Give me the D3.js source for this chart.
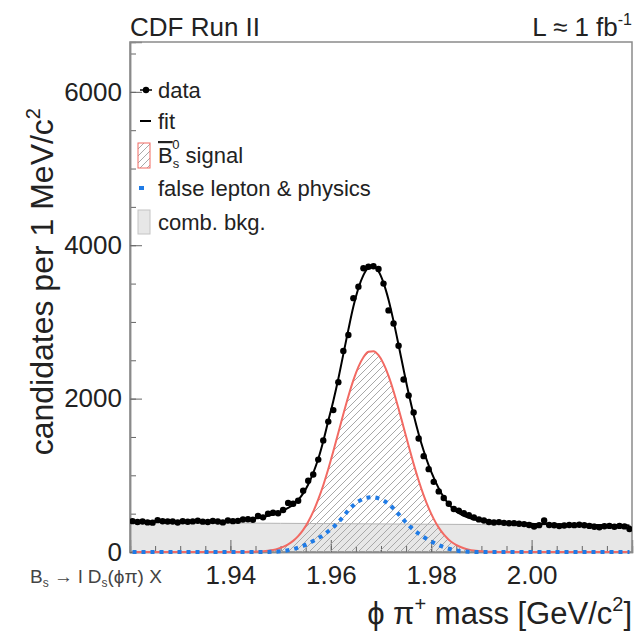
<!DOCTYPE html>
<html>
<head>
<meta charset="utf-8">
<script src="https://cdn.jsdelivr.net/npm/d3@7"></script>
<style>
  body { margin: 0; background: #fff; }
  text { font-family: "Liberation Sans", Arial, sans-serif; }
</style>
</head>
<body>
<script>
// phi pi mass spectrum, 1 MeV bins from 1.920 to 2.020 GeV
const massBins = d3.range(100).map(i => +(1.9205 + i * 0.001).toFixed(4));

const dataCounts = [
  402,392,398,386,383,415,400,397,398,384,
  401,395,399,408,396,391,404,398,386,410,
  402,406,424,428,420,470,452,500,512,505,
  548,640,630,668,800,930,1010,1205,1455,1700,
  1850,2215,2620,2830,3310,3460,3700,3720,3725,3690,
  3500,3150,2980,2690,2250,2040,1820,1480,1250,1080,
  915,790,705,630,560,540,505,480,450,425,
  410,392,384,390,380,374,376,368,364,352,
  332,350,410,352,348,338,345,352,350,355,
  348,340,330,322,335,340,330,340,334,300
];

const fitTotal = [
  398,398,397,397,397,396,396,396,396,396,
  396,396,396,397,397,398,399,400,402,404,
  407,411,416,423,432,443,456,472,490,512,
  540,575,615,680,765,880,1030,1215,1445,1710,
  1970,2260,2580,2900,3200,3440,3610,3705,3720,3660,
  3510,3290,3010,2700,2380,2070,1790,1540,1320,1130,
  970,830,715,625,555,505,470,445,428,416,
  406,398,392,387,383,380,377,374,372,370,
  366,365,364,363,362,361,360,359,358,357,
  356,355,354,353,352,351,350,349,348,347
];

const bsSignal = [
  0,0,0,0,0,0,0,0,0,0,
  0,0,0,0,0,0,0,0,0,0,
  0,1,1,2,3,6,10,17,27,43,
  66,99,145,207,289,395,526,686,871,1082,
  1313,1555,1798,2031,2241,2414,2540,2610,2619,2566,
  2457,2297,2097,1869,1628,1384,1149,932,738,571,
  432,318,229,161,111,75,49,31,19,12,
  7,4,2,1,1,0,0,0,0,0,
  0,0,0,0,0,0,0,0,0,0,
  0,0,0,0,0,0,0,0,0,0
];

const falseLepton = [
  0,0,0,0,0,0,0,0,0,0,
  0,0,0,0,0,0,0,0,0,0,
  0,0,0,0,0,0,0,1,3,6,
  12,22,37,57,80,110,143,180,220,270,
  322,390,462,545,610,660,695,711,714,700,
  672,628,565,495,420,350,290,240,195,156,
  121,90,63,42,26,14,7,3,1,0,
  0,0,0,0,0,0,0,0,0,0,
  0,0,0,0,0,0,0,0,0,0,
  0,0,0,0,0,0,0,0,0,0
];

const combMass = [1.92, 1.93, 1.94, 1.95, 1.96, 1.97, 1.98, 1.99, 2.00, 2.01, 2.02];
const combBkg  = [386, 382, 378, 374, 370, 366, 362, 358, 354, 350, 346];

const xMajor = [1.94, 1.96, 1.98, 2.00];
const yMajor = [0, 2000, 4000, 6000];

const W = 637, H = 640;
const frameL = 130, frameR = 632, frameT = 42, frameB = 552;

const svg = d3.select("body").append("svg").attr("width", W).attr("height", H);
svg.append("rect").attr("width", W).attr("height", H).attr("fill", "#fff");

const x = d3.scaleLinear().domain([1.92, 2.02]).range([frameL, frameR]);
const y = d3.scaleLinear().domain([0, 6650]).range([frameB, frameT]);

// hatch for the signal
const defs = svg.append("defs");
const pat = defs.append("pattern").attr("id", "hatch")
  .attr("patternUnits", "userSpaceOnUse").attr("width", 7).attr("height", 7);
pat.append("path").attr("d", "M0,7 L7,0 M-1,1 L1,-1 M6,8 L8,6")
  .attr("stroke", "#a8a8a8").attr("stroke-width", 1);
defs.append("clipPath").attr("id", "frame")
  .append("rect").attr("x", frameL).attr("y", frameT)
  .attr("width", frameR - frameL).attr("height", frameB - frameT + 3);

// combinatorial background band sits under the axes
const combPts = combMass.map((m, i) => [m, combBkg[i]]);
svg.append("path").datum(combPts)
  .attr("d", d3.area().x(d => x(d[0])).y0(y(0)).y1(d => y(d[1])))
  .attr("fill", "#e7e7e7");

// frame
svg.append("rect").attr("x", frameL).attr("y", frameT)
  .attr("width", frameR - frameL).attr("height", frameB - frameT)
  .attr("fill", "none").attr("stroke", "#8a8a8a").attr("stroke-width", 1.5);

// axes, ticks pointing inside
function styleAxis(g) {
  g.select(".domain").attr("stroke", "#8a8a8a").attr("stroke-width", 1.5);
  g.selectAll(".tick line").attr("stroke", "#666");
  g.selectAll(".tick text").attr("fill", "#222").attr("font-size", 26)
    .attr("font-family", '"Liberation Sans", Arial, sans-serif');
}

svg.append("g").attr("transform", `translate(0,${frameB})`)
  .call(d3.axisBottom(x).tickValues(d3.range(1.925, 2.02, 0.005)).tickSize(-6).tickFormat(""))
  .call(styleAxis);
svg.append("g").attr("transform", `translate(0,${frameB})`)
  .call(d3.axisBottom(x).tickValues(xMajor).tickSize(-12).tickPadding(14).tickFormat(d3.format(".2f")))
  .call(styleAxis);

svg.append("g").attr("transform", `translate(${frameL},0)`)
  .call(d3.axisLeft(y).tickValues(d3.range(500, 6650, 500)).tickSize(-6).tickFormat(""))
  .call(styleAxis);
svg.append("g").attr("transform", `translate(${frameL},0)`)
  .call(d3.axisLeft(y).tickValues(yMajor).tickSize(-12).tickPadding(8).tickFormat(d3.format("d")))
  .call(styleAxis);

const plot = svg.append("g").attr("clip-path", "url(#frame)");

const sigPts = massBins.map((m, i) => [m, bsSignal[i]]);
plot.append("path").datum(sigPts)
  .attr("d", d3.area().x(d => x(d[0])).y0(y(0)).y1(d => y(d[1])).curve(d3.curveMonotoneX))
  .attr("fill", "url(#hatch)");

plot.append("path").datum(combPts)
  .attr("d", d3.line().x(d => x(d[0])).y(d => y(d[1])))
  .attr("fill", "none").attr("stroke", "#b4b4b4").attr("stroke-width", 1);

const line = d3.line().x(d => x(d[0])).y(d => y(d[1])).curve(d3.curveMonotoneX);

plot.append("path").datum(sigPts)
  .attr("d", line).attr("fill", "none")
  .attr("stroke", "#f26a63").attr("stroke-width", 2);

plot.append("path").datum(massBins.map((m, i) => [m, falseLepton[i]]))
  .attr("d", line).attr("fill", "none")
  .attr("stroke", "#1f7be6").attr("stroke-width", 4).attr("stroke-dasharray", "4,5");

plot.append("path").datum(massBins.map((m, i) => [m, fitTotal[i]]))
  .attr("d", line).attr("fill", "none")
  .attr("stroke", "#000").attr("stroke-width", 2);

// data points with bin-width bars
const pts = plot.append("g");
massBins.forEach((m, i) => {
  pts.append("line")
    .attr("x1", x(m - 0.0005)).attr("x2", x(m + 0.0005))
    .attr("y1", y(dataCounts[i])).attr("y2", y(dataCounts[i]))
    .attr("stroke", "#000").attr("stroke-width", 1.5);
  pts.append("circle").attr("cx", x(m)).attr("cy", y(dataCounts[i]))
    .attr("r", 3.2).attr("fill", "#000");
});

// titles
const txt = svg.append("g").attr("fill", "#222");

txt.append("text").attr("x", frameL).attr("y", 36).attr("font-size", 26).text("CDF Run II");

const lum = txt.append("text").attr("x", frameR).attr("y", 36).attr("font-size", 26).attr("text-anchor", "end");
lum.append("tspan").text("L \u2248 1 fb");
lum.append("tspan").attr("font-size", 16).attr("dy", -11).text("-1");

const yt = txt.append("text").attr("transform", "translate(53,108) rotate(-90)")
  .attr("font-size", 32).attr("text-anchor", "end");
yt.append("tspan").text("candidates per 1 MeV/c");
yt.append("tspan").attr("font-size", 20).attr("dy", -13).text("2");

const xt = txt.append("text").attr("x", frameR).attr("y", 624)
  .attr("font-size", 31).attr("text-anchor", "end");
xt.append("tspan").text("\u03d5 \u03c0");
xt.append("tspan").attr("font-size", 20).attr("dy", -13).text("+");
xt.append("tspan").attr("dy", 13).text(" mass [GeV/c");
xt.append("tspan").attr("font-size", 20).attr("dy", -13).text("2");
xt.append("tspan").attr("dy", 13).text("]");

const dec = svg.append("text").attr("x", 30).attr("y", 583).attr("font-size", 19).attr("fill", "#444");
dec.append("tspan").text("B");
dec.append("tspan").attr("font-size", 12).attr("dy", 4).text("s");
dec.append("tspan").attr("dy", -4).text(" \u2192 l D");
dec.append("tspan").attr("font-size", 12).attr("dy", 4).text("s");
dec.append("tspan").attr("dy", -4).text("(\u03d5\u03c0) X");

// legend
const leg = svg.append("g").attr("font-size", 22).attr("fill", "#222");
const lx = 158;

leg.append("circle").attr("cx", 146).attr("cy", 90).attr("r", 3.2).attr("fill", "#000");
leg.append("line").attr("x1", 140).attr("x2", 152).attr("y1", 90).attr("y2", 90).attr("stroke", "#000").attr("stroke-width", 1.5);
leg.append("text").attr("x", lx).attr("y", 98).text("data");

leg.append("line").attr("x1", 140).attr("x2", 151).attr("y1", 121).attr("y2", 121).attr("stroke", "#000").attr("stroke-width", 2);
leg.append("text").attr("x", lx).attr("y", 129).text("fit");

leg.append("rect").attr("x", 138).attr("y", 143).attr("width", 12).attr("height", 25)
  .attr("fill", "url(#hatch)").attr("stroke", "#f26a63").attr("stroke-width", 1);
const sl = leg.append("text").attr("x", lx).attr("y", 163);
sl.append("tspan").attr("text-decoration", "overline").text("B");
sl.append("tspan").attr("font-size", 13).attr("dy", 5).text("s");
sl.append("tspan").attr("font-size", 13).attr("dx", -7).attr("dy", -19).text("0");
sl.append("tspan").attr("dy", 14).text(" signal");

leg.append("rect").attr("x", 139).attr("y", 186).attr("width", 5).attr("height", 4).attr("fill", "#1f7be6");
leg.append("text").attr("x", lx).attr("y", 196).text("false lepton & physics");

leg.append("rect").attr("x", 138).attr("y", 210).attr("width", 12).attr("height", 24)
  .attr("fill", "#e7e7e7").attr("stroke", "#c4c4c4").attr("stroke-width", 1);
leg.append("text").attr("x", lx).attr("y", 230).text("comb. bkg.");
</script>
</body>
</html>
